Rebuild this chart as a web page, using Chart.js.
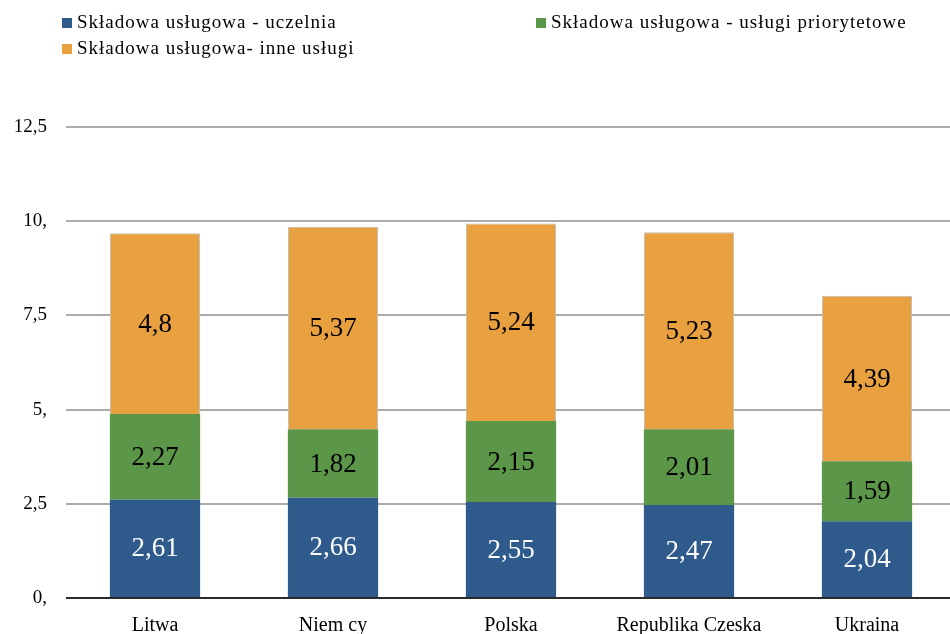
<!DOCTYPE html>
<html>
<head>
<meta charset="utf-8">
<script src="https://cdn.jsdelivr.net/npm/chart.js@4.4.1/dist/chart.umd.min.js"></script>
<style>
  html, body { margin: 0; padding: 0; background: #fff; overflow: hidden; }
  #wrap { width: 956px; height: 634px; }
</style>
</head>
<body>
<div id="wrap"><canvas id="chart"></canvas></div>
<script>
const countries = ["Litwa", "Niem cy", "Polska", "Republika Czeska", "Ukraina"];
const seriesNames = [
  "Składowa usługowa - uczelnia",
  "Składowa usługowa - usługi priorytetowe",
  "Składowa usługowa- inne usługi"
];
const uczelnia = [2.61, 2.66, 2.55, 2.47, 2.04];
const priorytetowe = [2.27, 1.82, 2.15, 2.01, 1.59];
const inneUslugi = [4.8, 5.37, 5.24, 5.23, 4.39];
const yTicks = [0, 2.5, 5, 7.5, 10, 12.5];

const serif = "'Liberation Serif', 'Times New Roman', serif";

function plNum(v) {
  // excel-style labels: "10," for whole numbers on the axis
  return String(v).replace(".", ",");
}

// draws the value in the middle of each stacked segment
const segmentLabels = {
  id: "segmentLabels",
  afterDatasetsDraw(chart) {
    const ctx = chart.ctx;
    ctx.save();
    ctx.font = "27px " + serif;
    ctx.textAlign = "center";
    ctx.textBaseline = "middle";
    chart.data.datasets.forEach((ds, i) => {
      const meta = chart.getDatasetMeta(i);
      meta.data.forEach((bar, j) => {
        ctx.fillStyle = i === 0 ? "#ffffff" : "#000000";
        ctx.fillText(plNum(ds.data[j]), bar.x, (bar.y + bar.base) / 2 + 1);
      });
    });
    ctx.restore();
  }
};

// two-column legend like the excel one
const boxLegend = {
  id: "boxLegend",
  afterDraw(chart, args, opts) {
    const ctx = chart.ctx;
    ctx.save();
    ctx.font = "19px " + serif;
    ctx.letterSpacing = "1px";
    ctx.textBaseline = "middle";
    ctx.textAlign = "left";
    chart.data.datasets.forEach((ds, i) => {
      const p = opts.spots[i];
      ctx.fillStyle = ds.backgroundColor;
      ctx.fillRect(p[0], p[1] - 5, 10, 10);
      ctx.fillStyle = "#000";
      ctx.fillText(ds.label, p[0] + 15, p[1]);
    });
    ctx.restore();
  }
};

new Chart(document.getElementById("chart"), {
  type: "bar",
  data: {
    labels: countries,
    datasets: [
      { label: seriesNames[0], data: uczelnia, backgroundColor: "#2E5A8C" },
      { label: seriesNames[1], data: priorytetowe, backgroundColor: "#5C9648" },
      { label: seriesNames[2], data: inneUslugi, backgroundColor: "#E8A13E",
        borderColor: "#BDBDBD", borderWidth: 1 }
    ]
  },
  options: {
    responsive: true,
    maintainAspectRatio: false,
    animation: false,
    layout: { padding: { top: 127, right: 0, bottom: 0, left: 0 } },
    datasets: {
      bar: { categoryPercentage: 1, barPercentage: 0.507 }
    },
    plugins: {
      legend: { display: false },
      tooltip: { enabled: false },
      boxLegend: { spots: [[62, 23], [536, 23], [62, 49]] }
    },
    scales: {
      x: {
        stacked: true,
        grid: { display: false },
        border: { display: false },
        ticks: { color: "#000", font: { family: serif, size: 20 }, padding: 8, maxRotation: 0 },
        afterFit(scale) { scale.height = 36; }
      },
      y: {
        stacked: true,
        min: 0,
        max: 12.5,
        afterBuildTicks(scale) { scale.ticks = yTicks.map(v => ({ value: v })); },
        grid: {
          drawTicks: false,
          lineWidth: 2,
          color: c => (c.tick && c.tick.value === 0 ? "#2b2b2b" : "#ABABAB")
        },
        border: { display: false },
        ticks: {
          color: "#000",
          font: { family: serif, size: 19 },
          padding: 19,
          callback: v => (v % 1 === 0 ? v + "," : plNum(v))
        },
        afterFit(scale) { scale.width = 66; }
      }
    }
  },
  plugins: [segmentLabels, boxLegend]
});
</script>
</body>
</html>
